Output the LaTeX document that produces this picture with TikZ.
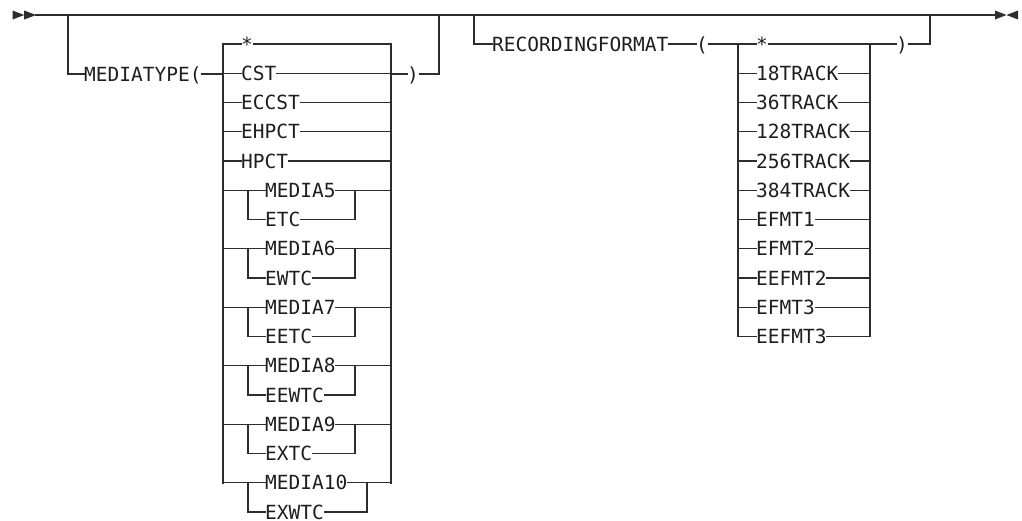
\documentclass[tikz,border=0pt]{standalone}
\usepackage{fontspec}
\newfontfamily\railfont{DejaVu Sans Mono}
\definecolor{ln}{RGB}{45,45,45}
\definecolor{tx}{RGB}{30,30,30}
\begin{document}
\begin{tikzpicture}[x=1pt,y=-1pt,
  rail/.style={draw=ln,line width=1.2pt,line cap=rect},
  kw/.style={anchor=west,inner sep=0pt,text height=14.2pt,text depth=0pt,
    font=\railfont\fontsize{19.5}{20}\selectfont,text=tx},
  tipfill/.style={fill=ln}]
\useasboundingbox (0,0) rectangle (1022,520);

% main line and start/end marks
\coordinate (s) at (36,15);
\coordinate (e) at (995,15);
\fill[tipfill] (12.5,10.5) -- (24.2,15) -- (12.5,19.5) -- cycle;
\fill[tipfill] (24.2,10.5) -- (s) -- (24.2,19.5) -- cycle;
\fill[tipfill] (e |- 0,10.5) -- (1006.5,15) -- (e |- 0,19.5) -- cycle;
\fill[tipfill] (1018,10.5) -- (1006.5,15) -- (1018,19.5) -- cycle;
\draw[rail] (s) -- (e);

% ---------------- MEDIATYPE branch ----------------
\coordinate (b1) at (68,15);
\node[kw] (mt) at (84,74) {MEDIATYPE(};
\draw[rail] (b1) |- (mt.west);
\coordinate (mL) at (223,44);
\coordinate (mLb) at (223,483);
\coordinate (mR) at (391,44);
\coordinate (mRb) at (391,483);
\draw[rail] (mt.east) -- (mL |- mt.west);
\draw[rail] (mL) -- (mLb);
\draw[rail] (mR) -- (mRb);

\foreach \t [count=\i from 0] in {*,CST,ECCST,EHPCT,HPCT}{
  \node[kw] (a\i) at (241,{44+29.25*\i}) {\t};
  \draw[rail] (mL |- a\i.west) -- (a\i.west);
  \draw[rail] (a\i.east) -- (mR |- a\i.east);
}

\foreach \ta/\tb/\rx [count=\k from 0] in
  {MEDIA5/ETC/355,MEDIA6/EWTC/355,MEDIA7/EETC/355,MEDIA8/EEWTC/355,MEDIA9/EXTC/355,MEDIA10/EXWTC/367}{
  \node[kw] (p\k) at (265,{44+29.25*(5+2*\k)}) {\ta};
  \node[kw] (q\k) at (265,{44+29.25*(6+2*\k)}) {\tb};
  \draw[rail] (mL |- p\k.west) -- (p\k.west);
  \draw[rail] (248,0 |- p\k.west) |- (q\k.west);
  \draw[rail] (p\k.east) -- (mR |- p\k.east);
  \draw[rail] (q\k.east) -| (\rx,0 |- p\k.east);
}

\node[kw] (mc) at (407,74) {)};
\draw[rail] (mR |- mc.west) -- (mc.west);
\coordinate (b1e) at (439,15);
\draw[rail] (mc.east) -| (b1e);

% ---------------- RECORDINGFORMAT branch ----------------
\coordinate (b2) at (474,15);
\node[kw] (rf) at (492,44) {RECORDINGFORMAT};
\draw[rail] (b2) |- (rf.west);
\node[kw] (ro) at (696,44) {(};
\draw[rail] (rf.east) -- (ro.west);
\coordinate (rL) at (738,44);
\coordinate (rLb) at (738,336.5);
\coordinate (rR) at (870,44);
\coordinate (rRb) at (870,336.5);
\draw[rail] (ro.east) -- (rL);
\draw[rail] (rL) -- (rLb);
\draw[rail] (rR) -- (rRb);

\foreach \t [count=\i from 0] in {*,18TRACK,36TRACK,128TRACK,256TRACK,384TRACK,EFMT1,EFMT2,EEFMT2,EFMT3,EEFMT3}{
  \node[kw] (r\i) at (756,{44+29.25*\i}) {\t};
  \draw[rail] (rL |- r\i.west) -- (r\i.west);
  \draw[rail] (r\i.east) -- (rR |- r\i.east);
}

\node[kw] (rc) at (896,44) {)};
\draw[rail] (rR) -- (rc.west);
\coordinate (b2e) at (930,15);
\draw[rail] (rc.east) -| (b2e);
\end{tikzpicture}
\end{document}
